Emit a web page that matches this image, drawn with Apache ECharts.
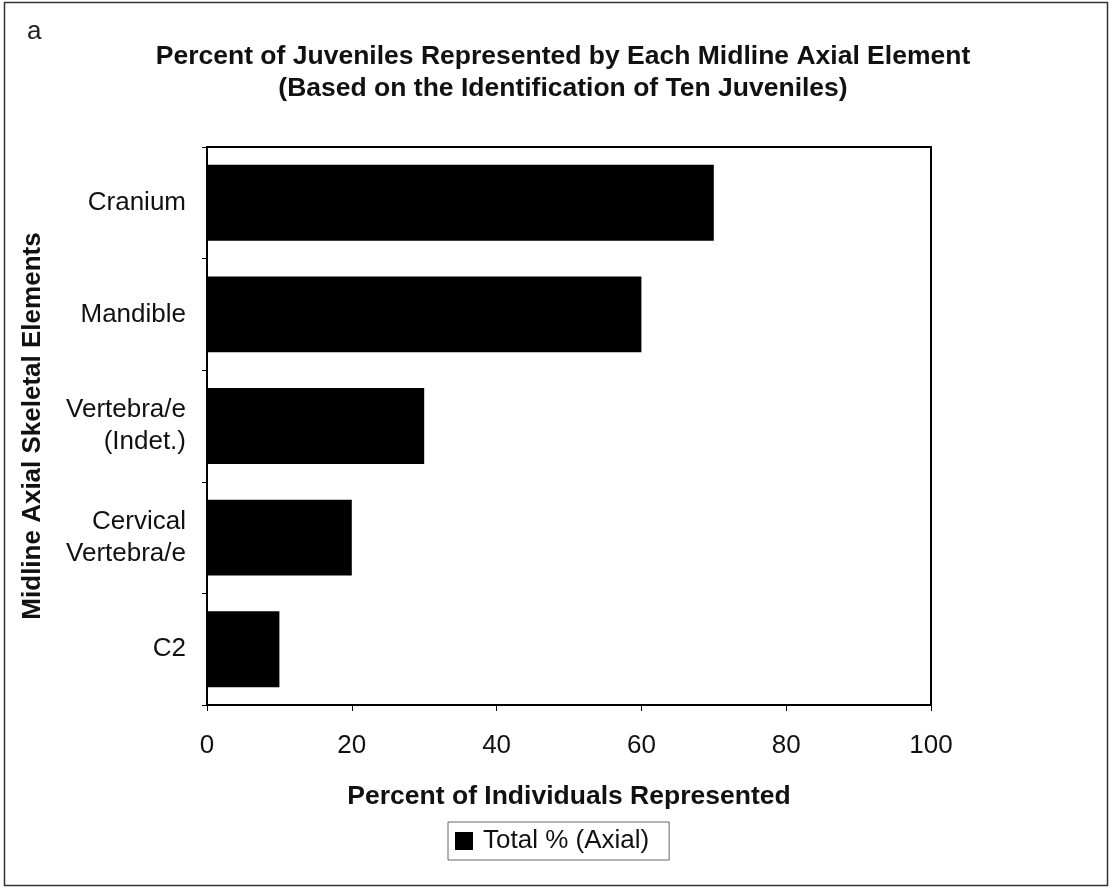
<!DOCTYPE html>
<html><head><meta charset="utf-8">
<script src="https://cdn.jsdelivr.net/npm/echarts@6/dist/echarts.min.js"></script>
<style>html,body{margin:0;padding:0;background:#fff}#c{width:1113px;height:888px}</style>
</head><body><div id="c"></div>
<script>
const categories = ['Cranium', 'Mandible', 'Vertebra/e\n(Indet.)', 'Cervical\nVertebra/e', 'C2'];
const values = [70, 60, 30, 20, 10];
const xTicks = [0, 20, 40, 60, 80, 100];
const seriesName = 'Total % (Axial)';

const font = '"Liberation Sans", Arial, sans-serif';
const chart = echarts.init(document.getElementById('c'));
chart.setOption({
  backgroundColor: '#fff',
  animation: false,
  title: {
    text: 'Percent of Juveniles Represented by Each Midline Axial Element\n(Based on the Identification of Ten Juveniles)',
    left: 558, top: 36, textAlign: 'center',
    textStyle: { fontFamily: font, fontSize: 26.5, fontWeight: 'bold', color: '#111', lineHeight: 32 }
  },
  graphic: [
    { type: 'rect', shape: { x: 4.5, y: 2.5, width: 1103, height: 883 }, style: { fill: 'none', stroke: '#333', lineWidth: 1.5 } },
    { type: 'text', left: 27, top: 19, style: { text: 'a', fontFamily: font, fontSize: 26, fill: '#222' } }
  ],
  legend: {
    data: [seriesName],
    left: 448, top: 822,
    padding: [6, 20, 6, 7],
    borderColor: '#666', borderWidth: 1,
    itemWidth: 18, itemHeight: 18, itemGap: 4,
    icon: 'rect',
    textStyle: { fontFamily: font, fontSize: 26, color: '#111', padding: [0, 0, 0, 5] }
  },
  grid: { left: 207, top: 147, width: 724, height: 558, show: true, borderColor: '#000', borderWidth: 2, containLabel: false },
  xAxis: {
    type: 'value', min: 0, max: 100, interval: 20,
    name: 'Percent of Individuals Represented', nameLocation: 'middle', nameGap: 78,
    nameTextStyle: { fontFamily: font, fontSize: 26.5, fontWeight: 'bold', color: '#111' },
    axisLine: { show: true, lineStyle: { color: '#000', width: 2 } },
    axisTick: { show: true, length: 6, lineStyle: { color: '#000' } },
    splitLine: { show: false },
    axisLabel: { fontFamily: font, fontSize: 26, color: '#111', margin: 28,
      formatter: v => xTicks.includes(v) ? String(v) : '' }
  },
  yAxis: {
    type: 'category', data: categories, inverse: true,
    name: 'Midline Axial Skeletal Elements', nameLocation: 'middle', nameGap: 161, nameRotate: 90,
    nameTextStyle: { fontFamily: font, fontSize: 26, fontWeight: 'bold', color: '#111' },
    axisLine: { show: true, lineStyle: { color: '#000', width: 2 } },
    axisTick: { show: true, length: 5, alignWithLabel: false, lineStyle: { color: '#000' } },
    axisLabel: { fontFamily: font, fontSize: 26, color: '#111', margin: 21, align: 'right', lineHeight: 32 }
  },
  series: [{
    name: seriesName, type: 'bar', data: values,
    barCategoryGap: '32%',
    itemStyle: { color: '#000' }
  }]
});
</script></body></html>
